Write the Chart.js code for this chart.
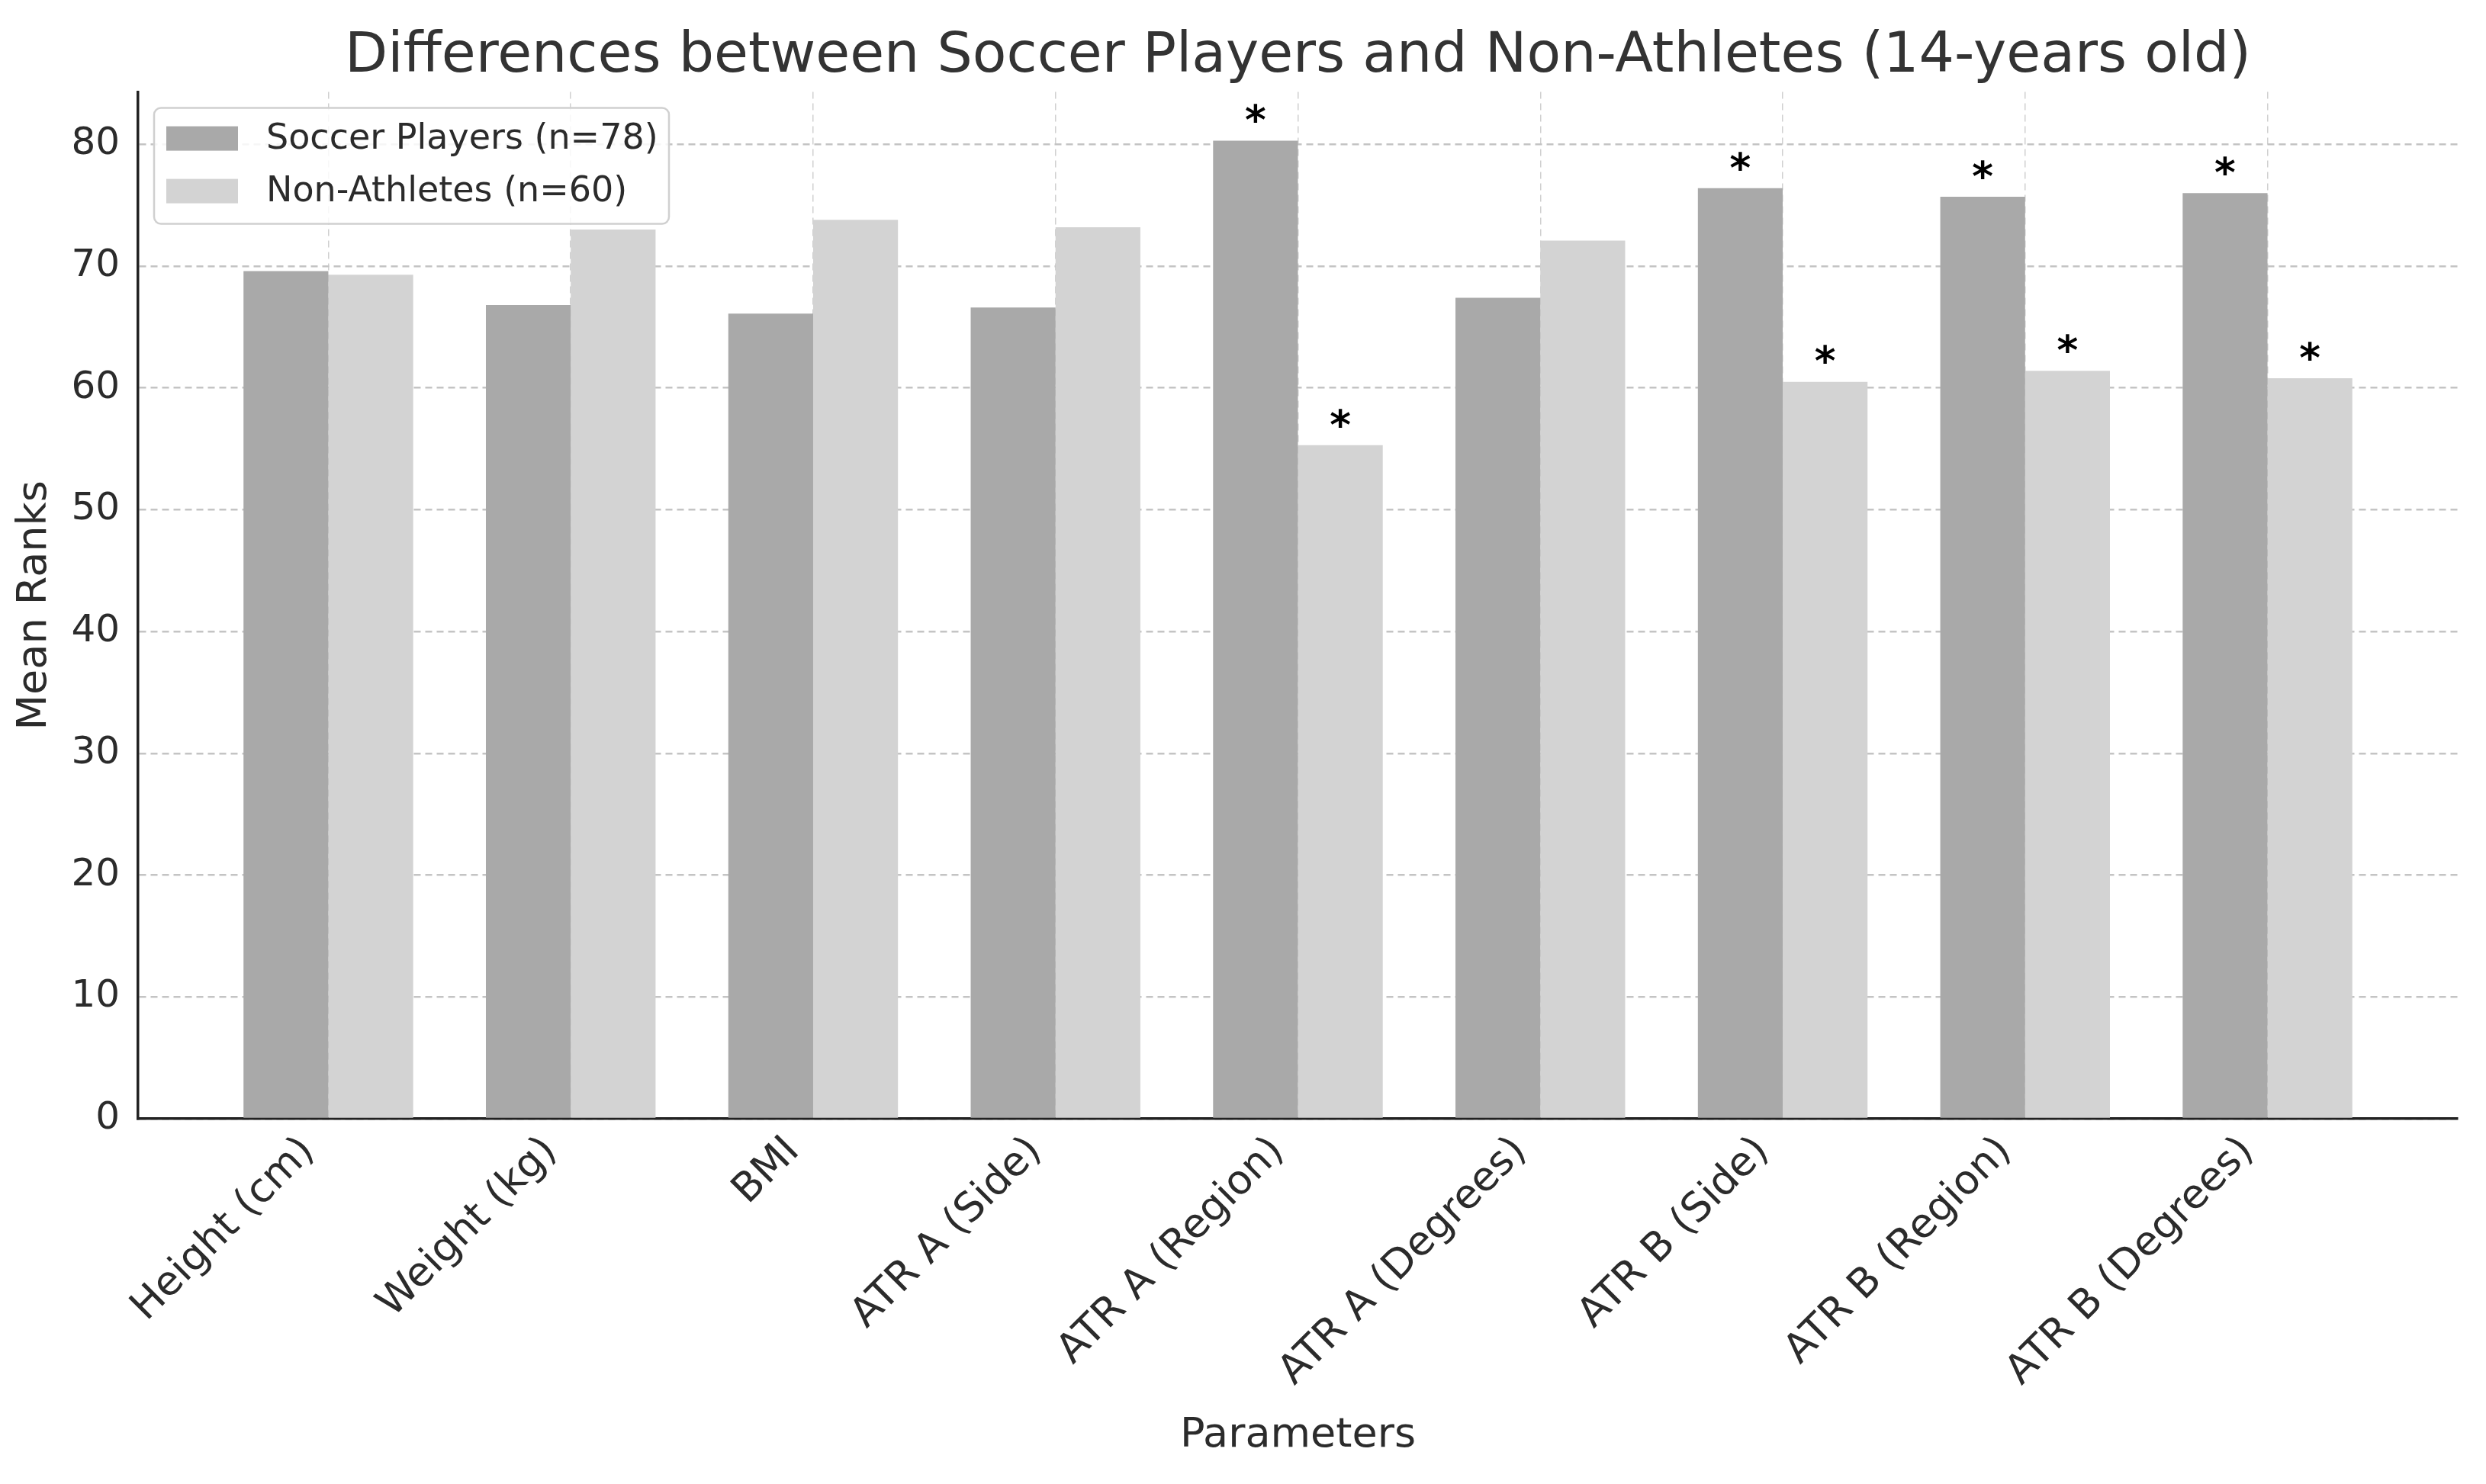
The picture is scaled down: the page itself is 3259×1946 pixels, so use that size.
<!DOCTYPE html>
<html>
<head>
<meta charset="utf-8">
<title>Soccer Players vs Non-Athletes</title>
<script src="https://cdn.jsdelivr.net/npm/chart.js@4.4.1/dist/chart.umd.min.js"></script>
<style>
  html, body { margin: 0; padding: 0; background: #fff; }
  #wrap { width: 3259px; height: 1946px; }
</style>
</head>
<body>
<div id="wrap"><canvas id="ranksChart" width="3259" height="1946"></canvas></div>
<script>
// Data
const categories = [
  "Height (cm)", "Weight (kg)", "BMI", "ATR A (Side)", "ATR A (Region)",
  "ATR A (Degrees)", "ATR B (Side)", "ATR B (Region)", "ATR B (Degrees)"
];
const soccerRanks = [69.6, 66.8, 66.1, 66.6, 80.3, 67.4, 76.4, 75.7, 76.0];
const nonAthleteRanks = [69.3, 73.0, 73.8, 73.2, 55.3, 72.1, 60.5, 61.4, 60.8];
// 1 = marked with an asterisk (significant)
const soccerSig = [0, 0, 0, 0, 1, 0, 1, 1, 1];
const nonAthleteSig = [0, 0, 0, 0, 1, 0, 1, 1, 1];
const yTicks = [0, 10, 20, 30, 40, 50, 60, 70, 80];

const FONT = "'DejaVu Sans', 'Liberation Sans', sans-serif";
const TEXT = "#2b2b2b";

function toPoints(values) {
  return values.map((v, i) => ({ x: i, y: v }));
}

// Draws the "*" above significant bars, using the bar elements placed by Chart.js
const asteriskPlugin = {
  id: "asterisks",
  afterDatasetsDraw(chart) {
    const ctx = chart.ctx;
    const flags = [soccerSig, nonAthleteSig];
    ctx.save();
    ctx.fillStyle = "#000";
    ctx.font = "bold 53px " + FONT;
    ctx.textAlign = "center";
    ctx.textBaseline = "middle";
    flags.forEach((sig, d) => {
      const meta = chart.getDatasetMeta(d);
      meta.data.forEach((bar, i) => {
        if (sig[i]) ctx.fillText("*", bar.x, bar.y - 22);
      });
    });
    ctx.restore();
  }
};

// Legend box inside the top-left of the plot, like matplotlib's
const boxLegendPlugin = {
  id: "boxLegend",
  afterDraw(chart) {
    const ctx = chart.ctx;
    const area = chart.chartArea;
    const x0 = area.left + 21;
    const y0 = area.top + 21;
    const w = 675;
    const h = 152;
    ctx.save();
    ctx.fillStyle = "rgba(255,255,255,0.85)";
    ctx.strokeStyle = "#d0d0d0";
    ctx.lineWidth = 2.5;
    ctx.beginPath();
    ctx.roundRect(x0, y0, w, h, 9);
    ctx.fill();
    ctx.stroke();
    ctx.font = "46px " + FONT;
    ctx.textBaseline = "middle";
    ctx.textAlign = "left";
    chart.data.datasets.forEach((ds, i) => {
      const cy = y0 + 40 + i * 69;
      ctx.fillStyle = ds.backgroundColor;
      ctx.fillRect(x0 + 16, cy - 16, 94, 32);
      ctx.fillStyle = TEXT;
      ctx.fillText(ds.label, x0 + 147, cy + 1);
    });
    ctx.restore();
  }
};

const ctx = document.getElementById("ranksChart").getContext("2d");

new Chart(ctx, {
  type: "bar",
  data: {
    datasets: [
      {
        label: "Soccer Players (n=78)",
        data: toPoints(soccerRanks),
        backgroundColor: "#a9a9a9",
        borderWidth: 0
      },
      {
        label: "Non-Athletes (n=60)",
        data: toPoints(nonAthleteRanks),
        backgroundColor: "#d3d3d3",
        borderWidth: 0
      }
    ]
  },
  options: {
    responsive: false,
    animation: false,
    categoryPercentage: 0.7,
    barPercentage: 1.0,
    layout: { padding: { left: 0, right: 37, top: 0, bottom: 0 } },
    plugins: {
      legend: { display: false },
      tooltip: { enabled: false },
      title: {
        display: true,
        fullSize: false,
        text: "Differences between Soccer Players and Non-Athletes (14-years old)",
        color: "#333",
        font: { family: FONT, size: 73, weight: "normal", lineHeight: 1.2 },
        padding: { top: 31, bottom: 2 }
      }
    },
    scales: {
      x: {
        type: "linear",
        min: -0.785,
        max: 8.785,
        offset: false,
        afterBuildTicks(axis) {
          axis.ticks = categories.map((c, i) => ({ value: i }));
        },
        afterFit(axis) {
          axis.height = 479;
        },
        ticks: {
          autoSkip: false,
          maxRotation: 45,
          minRotation: 45,
          padding: 12,
          labelOffset: -26,
          color: TEXT,
          font: { family: FONT, size: 53 },
          callback: (value) => categories[value]
        },
        grid: {
          display: true,
          offset: false,
          drawTicks: false,
          color: "#d0d0d0",
          lineWidth: 1.5
        },
        border: { display: true, color: "#222", width: 3.5, dash: [9, 6] },
        title: {
          display: true,
          text: "Parameters",
          color: TEXT,
          font: { family: FONT, size: 54, lineHeight: 1.2 },
          padding: { top: 0, bottom: 31 }
        }
      },
      y: {
        min: 0,
        max: 84.3,
        afterBuildTicks(axis) {
          axis.ticks = yTicks.map((v) => ({ value: v }));
        },
        afterFit(axis) {
          axis.width = 181;
        },
        ticks: {
          padding: 24,
          color: TEXT,
          font: { family: FONT, size: 50 }
        },
        grid: {
          drawTicks: false,
          color: "#c4c4c4",
          lineWidth: 2.5
        },
        border: { display: true, color: "#222", width: 3.5, dash: [9, 6] },
        title: {
          display: true,
          text: "Mean Ranks",
          color: TEXT,
          font: { family: FONT, size: 54, lineHeight: 1.2 },
          padding: { top: 14, bottom: 0 }
        }
      }
    }
  },
  plugins: [asteriskPlugin, boxLegendPlugin]
});
</script>
</body>
</html>
